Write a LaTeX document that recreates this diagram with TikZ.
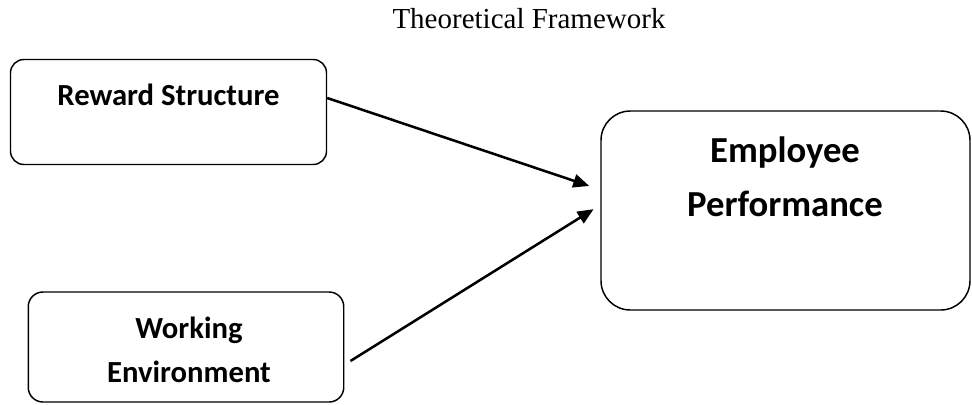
\documentclass[tikz,border=0pt]{standalone}
\usepackage{fontspec}
\setmainfont{Liberation Serif}
\newfontfamily\boxfont{Carlito}
\usetikzlibrary{arrows.meta}

\begin{document}
\begin{tikzpicture}[x=0.75pt,y=-0.75pt]
    \tikzset{box/.style = {shape=rectangle,draw,line width=1.1pt,rounded corners=10pt,inner sep=0pt},
             boxtext/.style = {font=\fontsize{23}{33}\selectfont\boxfont\bfseries,align=center,inner sep=0pt},
             arrow/.style = {-{Triangle[length=12pt,width=10pt]},line width=1.9pt}}
    \useasboundingbox (0,0) rectangle (972,404);

    % Title
    \node[font=\fontsize{21.75}{26}\selectfont,anchor=base,inner sep=0pt] (title) at (529,28) {Theoretical Framework};

    % Boxes on the left
    \node[box,minimum width=237pt,minimum height=78.75pt] (reward) at (168.5,112) {};
    \node[box,minimum width=236.6pt,minimum height=82.5pt,rounded corners=11pt] (work) at (186,347) {};
    \node[boxtext,anchor=base] (rewardtxt) at (168.5,105) {Reward Structure};
    \node[boxtext] (worktxt) at (189,350) {Working\\Environment};

    % Box on the right
    \node[box,minimum width=276.75pt,minimum height=149.25pt,rounded corners=22pt] (perf) at (785.5,210.5) {};
    \node[boxtext,font=\fontsize{27.5}{40.5}\selectfont\boxfont\bfseries] (perftxt) at (785,177) {Employee\\Performance};

    % Arrows into the right box
    \draw[arrow] ([yshift=10.5pt]reward.east) -- ([xshift=-8.25pt,yshift=18.4pt]perf.west);
    \draw[arrow] ([xshift=4.5pt,yshift=-10.5pt]work.east) -- ([xshift=-5pt,yshift=1pt]perf.west);
\end{tikzpicture}
\end{document}
